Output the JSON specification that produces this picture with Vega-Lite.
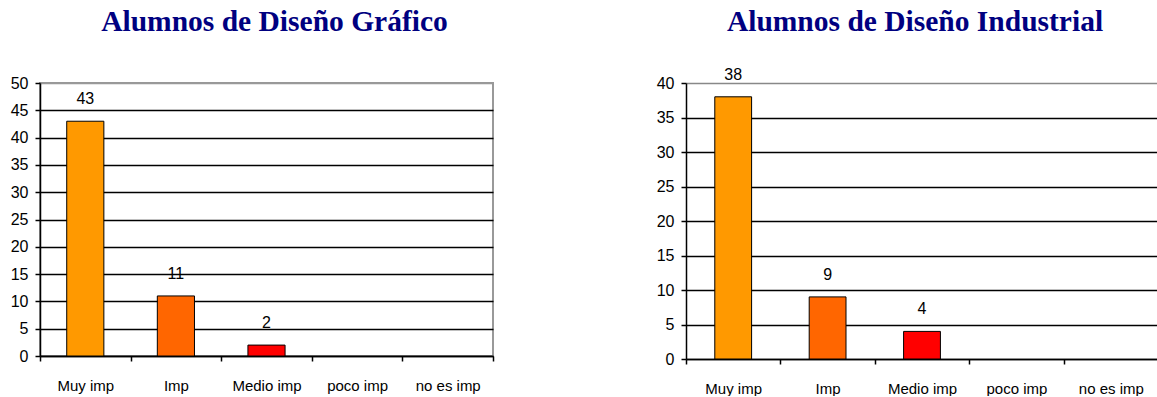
{
  "$schema": "https://vega.github.io/schema/vega-lite/v6.json",
  "padding": {"left": 9, "top": 6, "right": 0, "bottom": 0},
  "spacing": 161,
  "background": "white",
  "config": {
    "view": {"stroke": null},
    "font": "Liberation Sans",
    "title": {"font": "Liberation Serif", "fontSize": 29.5, "fontWeight": "bold", "color": "#000080", "anchor": "middle"},
    "axis": {
      "title": null,
      "domainColor": "black",
      "domainWidth": 1.5,
      "tickColor": "black",
      "tickWidth": 1.5,
      "tickSize": 5,
      "labelFont": "Liberation Sans",
      "labelFontSize": 16,
      "labelColor": "black",
      "gridColor": "black",
      "gridWidth": 1.5
    },
    "axisX": {"grid": false, "labelAngle": 0, "labelPadding": 17, "labelFontSize": 15, "tickBand": "extent"},
    "axisY": {"labelPadding": 7}
  },
  "datasets": {
    "grafico": [
      {"nivel": "Muy imp", "alumnos": 43},
      {"nivel": "Imp", "alumnos": 11},
      {"nivel": "Medio imp", "alumnos": 2},
      {"nivel": "poco imp", "alumnos": 0},
      {"nivel": "no es imp", "alumnos": 0}
    ],
    "industrial": [
      {"nivel": "Muy imp", "alumnos": 38},
      {"nivel": "Imp", "alumnos": 9},
      {"nivel": "Medio imp", "alumnos": 4},
      {"nivel": "poco imp", "alumnos": 0},
      {"nivel": "no es imp", "alumnos": 0}
    ]
  },
  "hconcat": [
    {
      "width": 453,
      "height": 273,
      "title": {"text": "Alumnos de Diseño Gráfico", "offset": 37.5, "dx": 8},
      "data": {"name": "grafico"},
      "view": {"stroke": "#999999", "strokeWidth": 2},
      "encoding": {
        "x": {
          "field": "nivel", "type": "nominal",
          "scale": {"domain": ["Muy imp", "Imp", "Medio imp", "poco imp", "no es imp"], "paddingInner": 0, "paddingOuter": 0}
        },
        "y": {
          "field": "alumnos", "type": "quantitative",
          "scale": {"domain": [0, 50], "nice": false},
          "axis": {
            "values": [0, 5, 10, 15, 20, 25, 30, 35, 40, 45, 50],
            "gridColor": {"condition": {"test": "datum.value === 50", "value": "#999999"}, "value": "black"}
          }
        }
      },
      "layer": [
        {
          "transform": [{"filter": "datum.alumnos > 0"}],
          "mark": {"type": "bar", "width": {"band": 0.41}, "stroke": "black", "strokeWidth": 1},
          "encoding": {
            "color": {
              "field": "nivel", "type": "nominal",
              "scale": {"domain": ["Muy imp", "Imp", "Medio imp", "poco imp", "no es imp"], "range": ["#FF9900", "#FF6600", "#FF0000", "#CC0000", "#990000"]},
              "legend": null
            }
          }
        },
        {
          "transform": [{"filter": "datum.alumnos > 0"}],
          "mark": {"type": "text", "baseline": "bottom", "dy": -14, "fontSize": 16, "color": "black"},
          "encoding": {"text": {"field": "alumnos", "type": "quantitative"}}
        }
      ]
    },
    {
      "width": 472,
      "height": 276,
      "title": {"text": "Alumnos de Diseño Industrial", "offset": 29.5, "dx": -7},
      "data": {"name": "industrial"},
      "encoding": {
        "x": {
          "field": "nivel", "type": "nominal",
          "scale": {"domain": ["Muy imp", "Imp", "Medio imp", "poco imp", "no es imp"], "paddingInner": 0, "paddingOuter": 0}
        },
        "y": {
          "field": "alumnos", "type": "quantitative",
          "scale": {"domain": [0, 40], "nice": false},
          "axis": {
            "values": [0, 5, 10, 15, 20, 25, 30, 35, 40],
            "gridColor": {"condition": {"test": "datum.value === 40", "value": "#888888"}, "value": "black"}
          }
        }
      },
      "layer": [
        {
          "transform": [{"filter": "datum.alumnos > 0"}],
          "mark": {"type": "bar", "width": {"band": 0.39}, "stroke": "black", "strokeWidth": 1},
          "encoding": {
            "color": {
              "field": "nivel", "type": "nominal",
              "scale": {"domain": ["Muy imp", "Imp", "Medio imp", "poco imp", "no es imp"], "range": ["#FF9900", "#FF6600", "#FF0000", "#CC0000", "#990000"]},
              "legend": null
            }
          }
        },
        {
          "transform": [{"filter": "datum.alumnos > 0"}],
          "mark": {"type": "text", "baseline": "bottom", "dy": -14, "fontSize": 16, "color": "black"},
          "encoding": {"text": {"field": "alumnos", "type": "quantitative"}}
        }
      ]
    }
  ],
  "resolve": {"scale": {"color": "independent"}}
}
